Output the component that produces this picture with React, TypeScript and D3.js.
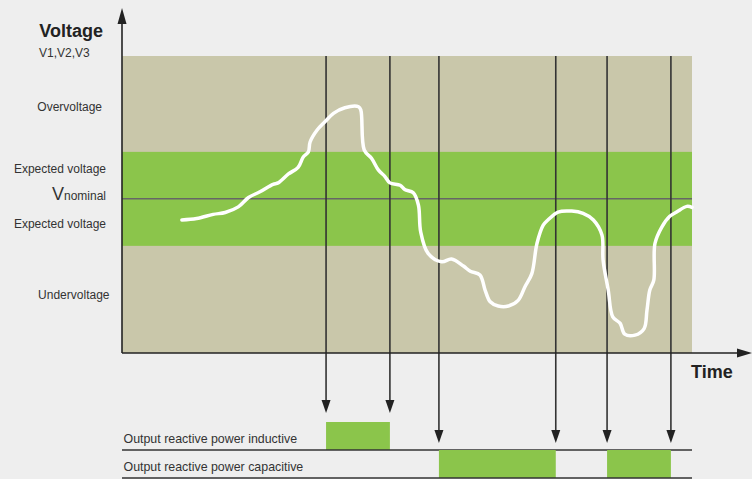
import { useEffect, useRef } from 'react';
import * as d3 from 'd3';

// voltage trace, time 0..100, voltage in % of nominal
const traceTime = [
  10.5, 13.1, 16.0, 18.1, 20.4, 22.2, 24.2, 26.5, 27.4, 29.2, 30.9, 31.8, 32.7, 33.0, 34.2,
  35.6, 37.1, 39.1, 41.5, 41.9, 42.5, 43.8, 45.0, 46.1, 47.0, 48.8, 49.6, 51.1, 52.0, 52.4,
  53.7, 56.1, 57.8, 59.9, 61.1, 62.8, 63.7, 64.6, 66.0, 67.8, 69.5, 70.7, 71.9, 72.8, 73.9,
  74.8, 76.5, 78.9, 80.9, 82.7, 84.2, 84.4, 85.3, 86.1, 87.4, 88.2, 90.0, 91.6, 92.1, 92.6,
  93.3, 93.5, 94.7, 96.1, 97.3, 99.1, 100,
];
const traceVoltage = [
  95.5, 95.8, 96.7, 97.1, 98.3, 100.3, 101.5, 103.1, 103.4, 105.3, 106.7, 108.9, 110.0, 112.1, 114.6,
  116.4, 118.2, 119.4, 119.6, 118.9, 110.4, 108.6, 106.1, 104.8, 103.4, 102.9, 102.0, 101.3, 98.7, 93.0,
  88.4, 86.6, 87.2, 85.7, 84.6, 83.8, 80.6, 78.1, 77.2, 77.2, 78.4, 81.3, 84.1, 90.5, 94.4,
  95.6, 97.2, 97.4, 96.9, 95.5, 92.3, 87.0, 80.6, 74.9, 73.5, 71.2, 71.0, 72.4, 76.3, 80.6,
  82.7, 90.5, 94.0, 96.3, 97.2, 98.4, 98.2,
];

const nominal = 100;
const expectedBand = [90, 110];

const zoneLabels = ['Overvoltage', 'Expected voltage', 'Vnominal', 'Expected voltage', 'Undervoltage'];
const zoneLevels = [118.7, 105.5, 99.7, 93.8, 78.7];

const outputRows = ['Output reactive power inductive', 'Output reactive power capacitive'];
const inductiveOn = [[35.8, 47.0]];
const capacitiveOn = [[55.6, 76.1], [85.1, 96.3]];

const W = 752;
const H = 479;
const FONT = '"Liberation Sans", Arial, Helvetica, sans-serif';

export default function App() {
  const svgRef = useRef<SVGSVGElement | null>(null);

  useEffect(() => {
    if (!svgRef.current) return;
    const svg = d3.select(svgRef.current);
    svg.selectAll('*').remove();

    const x = d3.scaleLinear().domain([0, 100]).range([122, 692]);
    const y = d3.scaleLinear().domain([67.2, 130.4]).range([353, 56]);
    const rowY = d3.scaleBand().domain(outputRows).range([422, 478]);

    svg.append('rect').attr('width', W).attr('height', H).attr('fill', '#eeeeee');

    // zones
    svg
      .append('rect')
      .attr('x', x(0))
      .attr('y', y(130.4))
      .attr('width', x(100) - x(0))
      .attr('height', y(67.2) - y(130.4))
      .attr('fill', '#c9c7aa');
    svg
      .append('rect')
      .attr('x', x(0))
      .attr('y', y(expectedBand[1]))
      .attr('width', x(100) - x(0))
      .attr('height', y(expectedBand[0]) - y(expectedBand[1]))
      .attr('fill', '#8bc54b');
    svg
      .append('line')
      .attr('x1', x(0))
      .attr('x2', x(100))
      .attr('y1', y(nominal))
      .attr('y2', y(nominal))
      .attr('stroke', '#666')
      .attr('stroke-width', 1.5);

    // output rows
    const rows = [inductiveOn, capacitiveOn];
    rows.forEach((spans, i) => {
      const top = rowY(outputRows[i])!;
      const bottom = top + rowY.bandwidth();
      svg
        .append('g')
        .selectAll('rect')
        .data(spans)
        .join('rect')
        .attr('x', (d) => x(d[0]))
        .attr('y', top)
        .attr('width', (d) => x(d[1]) - x(d[0]))
        .attr('height', bottom - top)
        .attr('fill', '#8bc54b');
      svg
        .append('line')
        .attr('x1', x(0))
        .attr('x2', x(100))
        .attr('y1', bottom)
        .attr('y2', bottom)
        .attr('stroke', '#333')
        .attr('stroke-width', 1.5);
      svg
        .append('text')
        .attr('x', x(0) + 1.5)
        .attr('y', bottom - 7)
        .attr('font-family', FONT)
        .attr('font-size', 12.4)
        .attr('fill', '#333')
        .text(outputRows[i]);

      // switching arrows
      const tipY = top - (i === 0 ? 9 : 7);
      const times = spans.flat();
      const g = svg.append('g');
      g.selectAll('line')
        .data(times)
        .join('line')
        .attr('x1', (d) => x(d))
        .attr('x2', (d) => x(d))
        .attr('y1', y(130.4))
        .attr('y2', tipY - 6)
        .attr('stroke', '#333')
        .attr('stroke-width', 1.6);
      g.selectAll('path')
        .data(times)
        .join('path')
        .attr('d', (d) => `M${x(d) - 4.5},${tipY - 13}L${x(d) + 4.5},${tipY - 13}L${x(d)},${tipY}Z`)
        .attr('fill', '#222');
    });

    // voltage trace
    const line = d3
      .line<number>()
      .x((d) => x(traceTime[d]))
      .y((d) => y(traceVoltage[d]))
      .curve(d3.curveCatmullRom.alpha(0.5));
    svg
      .append('path')
      .attr('d', line(d3.range(traceTime.length)))
      .attr('fill', 'none')
      .attr('stroke', '#fff')
      .attr('stroke-width', 3.5)
      .attr('stroke-linecap', 'round')
      .attr('stroke-linejoin', 'round');

    // axes
    const x0 = x(0);
    const yb = y(67.2);
    svg
      .append('line')
      .attr('x1', x0)
      .attr('x2', x0)
      .attr('y1', yb)
      .attr('y2', 20)
      .attr('stroke', '#222')
      .attr('stroke-width', 1.6);
    svg.append('path').attr('d', `M${x0 - 4.5},24L${x0 + 4.5},24L${x0},8Z`).attr('fill', '#222');
    svg
      .append('line')
      .attr('x1', x0)
      .attr('x2', 740)
      .attr('y1', yb)
      .attr('y2', yb)
      .attr('stroke', '#222')
      .attr('stroke-width', 1.6);
    svg.append('path').attr('d', `M737,${yb - 4.5}L737,${yb + 4.5}L752,${yb}Z`).attr('fill', '#222');

    svg
      .append('text')
      .attr('x', 691)
      .attr('y', 378)
      .attr('font-family', FONT)
      .attr('font-size', 18)
      .attr('font-weight', 'bold')
      .attr('fill', '#222')
      .text('Time');
    svg
      .append('text')
      .attr('x', 103)
      .attr('y', 37)
      .attr('text-anchor', 'end')
      .attr('font-family', FONT)
      .attr('font-size', 18)
      .attr('font-weight', 'bold')
      .attr('fill', '#222')
      .text('Voltage');
    svg
      .append('text')
      .attr('x', 39)
      .attr('y', 57)
      .attr('font-family', FONT)
      .attr('font-size', 12)
      .attr('fill', '#333')
      .text('V1,V2,V3');

    // zone labels
    const labelEnds = [102, 106, 106, 106, 109.5];
    zoneLabels.forEach((label, i) => {
      const t = svg
        .append('text')
        .attr('x', labelEnds[i])
        .attr('y', y(zoneLevels[i]))
        .attr('text-anchor', 'end')
        .attr('font-family', FONT)
        .attr('font-size', 12)
        .attr('fill', '#333');
      if (label === 'Vnominal') {
        t.append('tspan').attr('font-size', 18).text('V');
        t.append('tspan').text('nominal');
      } else {
        t.text(label);
      }
    });
  }, []);

  return (
    <svg
      ref={svgRef}
      width={W}
      height={H}
      style={{ position: 'absolute', left: 0, top: 0, display: 'block' }}
    />
  );
}
